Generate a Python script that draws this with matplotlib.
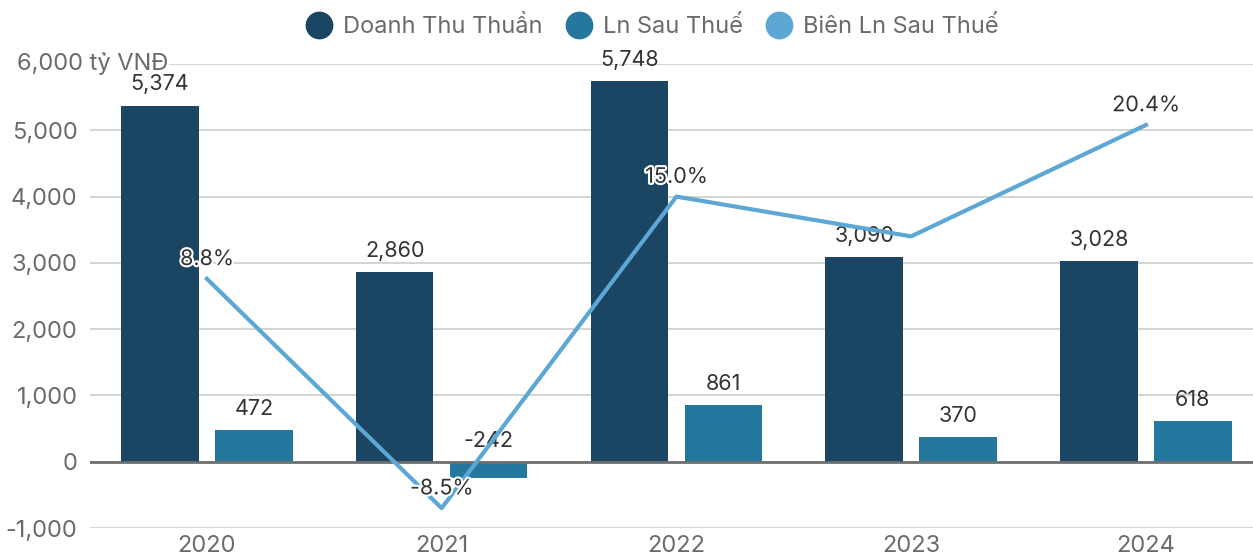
import numpy as np
import matplotlib
matplotlib.use("Agg")
import matplotlib.pyplot as plt
import matplotlib.patheffects as pe
import matplotlib.transforms as mtransforms
from matplotlib.lines import Line2D

plt.rcParams['font.family'] = ['Inter', 'DejaVu Sans']

# data
years = ['2020', '2021', '2022', '2023', '2024']
revenue = [5374, 2860, 5748, 3090, 3028]
profit = [472, -242, 861, 370, 618]
margin = [8.8, -8.5, 15.0, 12.0, 20.4]
margin_labels = ['8.8%', '-8.5%', '15.0%', '', '20.4%']  # 2023 label hidden in the source

c_rev = '#1b4663'
c_prof = '#24789d'
c_margin = '#5ca7d4'
grey = '#6b6b6b'

fig = plt.figure(figsize=(12.53, 5.6), dpi=100)
ax = fig.add_axes([0.0718, 0.0571, 0.9282, 0.8286])

x = np.arange(len(years))
w = 0.33
off = 0.2
ax.bar(x - off, revenue, width=w, color=c_rev, zorder=2)
ax.bar(x + off, profit, width=w, color=c_prof, zorder=2)

for xi, v in zip(x, revenue):
    ax.annotate(f'{v:,}', (xi - off, max(v, 0)), xytext=(0, 8), textcoords='offset points',
                ha='center', va='bottom', fontsize=15.5, color='#333333', zorder=8)
for xi, v in zip(x, profit):
    ax.annotate(f'{v:,}', (xi + off, max(v, 0)), xytext=(0, 8), textcoords='offset points',
                ha='center', va='bottom', fontsize=15.5, color='#333333', zorder=8)

ax.set_ylim(-1000, 6000)
ax.set_xlim(-0.498, 4.456)
ax.set_yticks(range(-1000, 6001, 1000))
ticklabels = [f'{t:,}' for t in range(-1000, 6001, 1000)]
ticklabels[-1] = ''
ax.set_yticklabels(ticklabels)
ax.set_xticks(x)
ax.set_xticklabels(years)
ax.tick_params(axis='both', length=0, labelsize=17, labelcolor=grey)
ax.tick_params(axis='y', pad=9)
ax.tick_params(axis='x', pad=5)
ax.grid(axis='y', color='#d4d4d4', linewidth=1.4, zorder=0)
ax.axhline(0, color='#6f6f6f', linewidth=2, zorder=3)
for s in ax.spines.values():
    s.set_visible(False)

# top tick label with unit, drawn over the gridline
trans = mtransforms.blended_transform_factory(fig.transFigure, ax.transData)
ax.text(17 / 1253, 6000, '6,000 tỷ VNĐ', transform=trans, ha='left', va='center',
        fontsize=17, color=grey, clip_on=False, zorder=6,
        bbox=dict(facecolor='white', edgecolor='none', pad=0.5))

# margin line on hidden secondary axis
ax2 = ax.twinx()
ax2.set_ylim(-10, 25)
ax2.plot(x, margin, color=c_margin, linewidth=3, zorder=4)
ax2.set_yticks([])
for s in ax2.spines.values():
    s.set_visible(False)
for xi, m, lab in zip(x, margin, margin_labels):
    if lab:
        ax2.annotate(lab, (xi, m), xytext=(0, 7), textcoords='offset points',
                     ha='center', va='bottom', fontsize=15.5, color='#333333', zorder=6,
                     path_effects=[pe.withStroke(linewidth=3, foreground='white')])

handles = [Line2D([], [], marker='o', linestyle='none', markersize=19, color=c) for c in (c_rev, c_prof, c_margin)]
fig.legend(handles, ['Doanh Thu Thuần', 'Ln Sau Thuế', 'Biên Ln Sau Thuế'],
           loc='center', bbox_to_anchor=(0.520, 0.952), ncol=3, frameon=False,
           fontsize=17, labelcolor=grey, handlelength=1.2, handletextpad=0.42,
           columnspacing=0.93, borderpad=0.2)

fig.savefig('out.png', dpi=100)
